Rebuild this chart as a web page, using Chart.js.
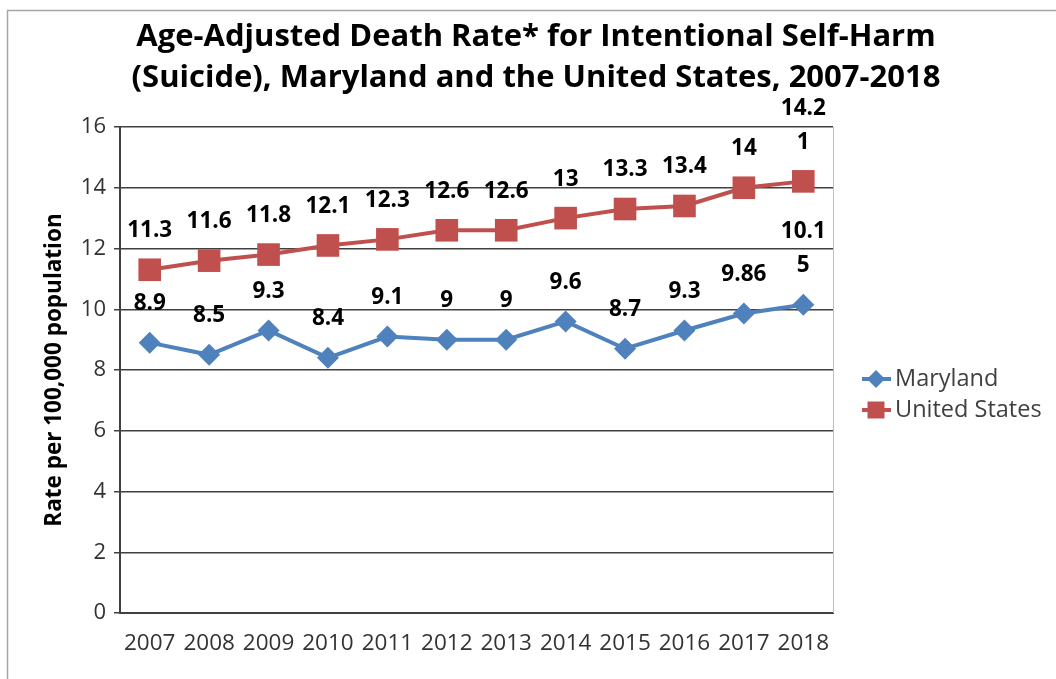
<!DOCTYPE html>
<html>
<head>
<meta charset="utf-8">
<script src="https://cdn.jsdelivr.net/npm/chart.js@4/dist/chart.umd.min.js"></script>
<style>
    body { margin: 0; background: #fff; }
    #wrap { width: 1056px; height: 679px; position: relative; }
</style>
</head>
<body>
<div id="wrap"><canvas id="chart" width="1056" height="679"></canvas></div>
<script>
// données
const years = ['2007', '2008', '2009', '2010', '2011', '2012', '2013', '2014', '2015', '2016', '2017', '2018'];
const maryland = [8.9, 8.5, 9.3, 8.4, 9.1, 9, 9, 9.6, 8.7, 9.3, 9.86, 10.15];
const unitedStates = [11.3, 11.6, 11.8, 12.1, 12.3, 12.6, 12.6, 13, 13.3, 13.4, 14, 14.21];
const yTicks = [0, 2, 4, 6, 8, 10, 12, 14, 16];
const titleLines = ['Age-Adjusted Death Rate* for Intentional Self-Harm', '(Suicide), Maryland and the United States, 2007-2018'];
const seriesNames = ['Maryland', 'United States'];

const FONT = '"Open Sans", "Noto Sans", sans-serif';
const blue = '#4F81BD';
const red = '#C0504D';

// cadre de l'image, titre, légende et étiquettes dessinés à la main
const decorPlugin = {
    id: 'decor',
    beforeDraw(chart) {
        const ctx = chart.ctx;
        ctx.save();
        ctx.strokeStyle = '#a6a6a6';
        ctx.lineWidth = 1.5;
        ctx.beginPath();
        ctx.moveTo(7.5, 679);
        ctx.lineTo(7.5, 10.5);
        ctx.lineTo(1056, 10.5);
        ctx.stroke();
        ctx.restore();
    },
    beforeDatasetsDraw(chart) {
        const ctx = chart.ctx;
        const area = chart.chartArea;
        ctx.save();
        ctx.strokeStyle = '#c0c0c0';
        ctx.lineWidth = 1;
        ctx.beginPath();
        ctx.moveTo(area.right + 0.5, area.top);
        ctx.lineTo(area.right + 0.5, area.bottom);
        ctx.stroke();
        ctx.restore();
    },
    afterDraw(chart) {
        const ctx = chart.ctx;
        ctx.save();

        // titre
        ctx.fillStyle = '#000';
        ctx.textAlign = 'center';
        ctx.textBaseline = 'middle';
        ctx.font = 'bold 31px ' + FONT;
        titleLines.forEach((line, i) => ctx.fillText(line, 536, 37 + i * 41));

        // étiquettes de données
        ctx.font = 'bold 22.5px ' + FONT;
        chart.data.datasets.forEach((ds, di) => {
            const meta = chart.getDatasetMeta(di);
            meta.data.forEach((pt, i) => {
                const txt = String(ds.data[i]);
                const parts = txt.length > 4 ? [txt.slice(0, 4), txt.slice(4)] : [txt];
                parts.forEach((p, k) => {
                    const y = pt.y - 39 - (parts.length - 1 - k) * 34;
                    ctx.fillText(p, pt.x, y);
                });
            });
        });

        // légende
        ctx.textAlign = 'left';
        ctx.font = '23.5px ' + FONT;
        chart.data.datasets.forEach((ds, di) => {
            const y = 379 + di * 31;
            ctx.strokeStyle = ds.borderColor;
            ctx.lineWidth = 4;
            ctx.beginPath();
            ctx.moveTo(862, y);
            ctx.lineTo(891, y);
            ctx.stroke();
            ctx.fillStyle = ds.borderColor;
            Chart.helpers.drawPoint(ctx, {
                pointStyle: ds.pointStyle,
                radius: di === 0 ? 9 : 12,
                borderWidth: 0
            }, 876, y);
            ctx.fillStyle = '#404040';
            ctx.fillText(ds.label, 895, y);
        });
        ctx.restore();
    }
};

const ctx = document.getElementById('chart').getContext('2d');
new Chart(ctx, {
    type: 'line',
    data: {
        labels: years,
        datasets: [{
            label: seriesNames[0],
            data: maryland,
            borderColor: blue,
            backgroundColor: blue,
            borderWidth: 4,
            pointStyle: 'rectRot',
            pointRadius: 11,
            pointBorderWidth: 0,
            tension: 0
        }, {
            label: seriesNames[1],
            data: unitedStates,
            borderColor: red,
            backgroundColor: red,
            borderWidth: 4,
            pointStyle: 'rect',
            pointRadius: 16,
            pointBorderWidth: 0,
            tension: 0
        }]
    },
    options: {
        responsive: false,
        animation: false,
        layout: { padding: { left: 37, top: 127, right: 223, bottom: 0 } },
        plugins: {
            legend: { display: false },
            title: { display: false },
            tooltip: { enabled: false }
        },
        scales: {
            x: {
                offset: true,
                grid: { display: false, drawTicks: false },
                border: { color: '#404040', width: 2 },
                ticks: { color: '#333', font: { family: FONT, size: 22.5 }, padding: 17, maxRotation: 0, autoSkip: false },
                afterFit(scale) { scale.height = 66; }
            },
            y: {
                min: 0,
                max: 16,
                afterBuildTicks(scale) { scale.ticks = yTicks.map(v => ({ value: v })); },
                grid: { color: '#404040', lineWidth: 1.5, tickLength: 6 },
                border: { color: '#404040', width: 2 },
                ticks: { color: '#333', font: { family: FONT, size: 22 }, padding: 8 },
                title: {
                    display: true,
                    text: 'Rate per 100,000 population',
                    color: '#000',
                    font: { family: FONT, size: 22.5, weight: 'bold' },
                    padding: { top: 4, bottom: 4 }
                },
                afterFit(scale) { scale.width = 83; }
            }
        }
    },
    plugins: [decorPlugin]
});
</script>
</body>
</html>
